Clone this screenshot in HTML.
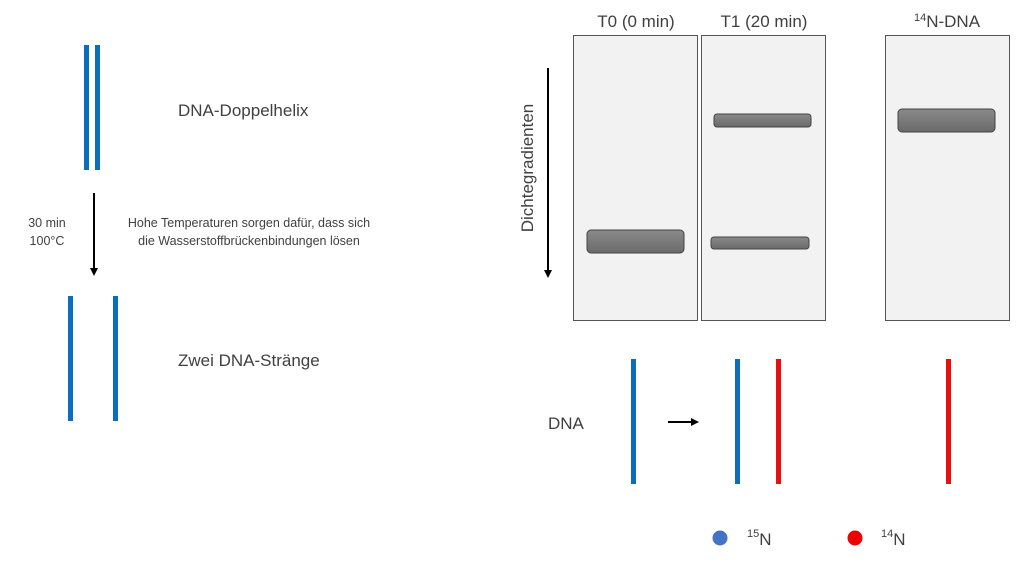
<!DOCTYPE html>
<html><head><style>body{margin:0;background:#fff}</style></head><body>
<svg width="1024" height="563" xmlns="http://www.w3.org/2000/svg" font-family="Liberation Sans, sans-serif">
<defs>
<linearGradient id="b" x1="0" y1="0" x2="0" y2="1"><stop offset="0" stop-color="#8a8a8a"/><stop offset="1" stop-color="#6a6a6a"/></linearGradient>
<marker id="ah" markerWidth="8" markerHeight="8" refX="6" refY="4" orient="auto" markerUnits="userSpaceOnUse"><path d="M0,0 L8,4 L0,8z" fill="#000"/></marker>
</defs>
<!-- left -->
<rect x="84" y="45" width="5" height="125" fill="#0b6dbb"/>
<rect x="95" y="45" width="5" height="125" fill="#0b6dbb"/>
<text x="178" y="116" font-size="17" fill="#404040">DNA-Doppelhelix</text>
<line x1="94" y1="193" x2="94" y2="274" stroke="#000" stroke-width="2" marker-end="url(#ah)"/>
<text x="47" y="227" font-size="12.5" fill="#404040" text-anchor="middle">30 min</text>
<text x="47" y="245" font-size="12.5" fill="#404040" text-anchor="middle">100°C</text>
<text x="249" y="227" font-size="12.5" fill="#404040" text-anchor="middle">Hohe Temperaturen sorgen dafür, dass sich</text>
<text x="249" y="245" font-size="12.5" fill="#404040" text-anchor="middle">die Wasserstoffbrückenbindungen lösen</text>
<rect x="68" y="296" width="5" height="125" fill="#0b6dbb"/>
<rect x="113" y="296" width="5" height="125" fill="#0b6dbb"/>
<text x="178" y="366" font-size="17" fill="#404040">Zwei DNA-Stränge</text>
<!-- right gel -->
<text x="636" y="27" font-size="17" fill="#404040" text-anchor="middle">T0 (0 min)</text>
<text x="764" y="27" font-size="17" fill="#404040" text-anchor="middle">T1 (20 min)</text>
<text x="947" y="27" font-size="17" fill="#404040" text-anchor="middle"><tspan font-size="11" dy="-6">14</tspan><tspan dy="6">N-DNA</tspan></text>
<rect x="573.5" y="35.5" width="124" height="285" fill="#f2f2f2" stroke="#555"/>
<rect x="701.5" y="35.5" width="124" height="285" fill="#f2f2f2" stroke="#555"/>
<rect x="885.5" y="35.5" width="124" height="285" fill="#f2f2f2" stroke="#555"/>
<rect x="587" y="230" width="97" height="23" rx="4" fill="url(#b)" stroke="#444"/>
<rect x="714" y="114" width="97" height="13" rx="3" fill="url(#b)" stroke="#444"/>
<rect x="711" y="237" width="98" height="12" rx="3" fill="url(#b)" stroke="#444"/>
<rect x="898" y="109" width="97" height="23" rx="4" fill="url(#b)" stroke="#444"/>
<line x1="548" y1="68" x2="548" y2="276" stroke="#000" stroke-width="2" marker-end="url(#ah)"/>
<text transform="translate(533,168) rotate(-90)" font-size="17" fill="#404040" text-anchor="middle">Dichtegradienten</text>
<!-- bottom -->
<text x="548" y="429" font-size="17" fill="#404040">DNA</text>
<rect x="631" y="359" width="5" height="125" fill="#0b6dbb"/>
<line x1="668" y1="422" x2="697" y2="422" stroke="#000" stroke-width="2" marker-end="url(#ah)"/>
<rect x="735" y="359" width="5" height="125" fill="#0b6dbb"/>
<rect x="776" y="359" width="5" height="125" fill="#e81010"/>
<rect x="946" y="359" width="5" height="125" fill="#e81010"/>
<circle cx="720" cy="538" r="7.5" fill="#4472c4"/>
<text x="747" y="545" font-size="17" fill="#404040"><tspan font-size="11" dy="-8">15</tspan><tspan dy="8">N</tspan></text>
<circle cx="855" cy="538" r="7.5" fill="#ee0000"/>
<text x="881" y="545" font-size="17" fill="#404040"><tspan font-size="11" dy="-8">14</tspan><tspan dy="8">N</tspan></text>
</svg>
</body></html>
